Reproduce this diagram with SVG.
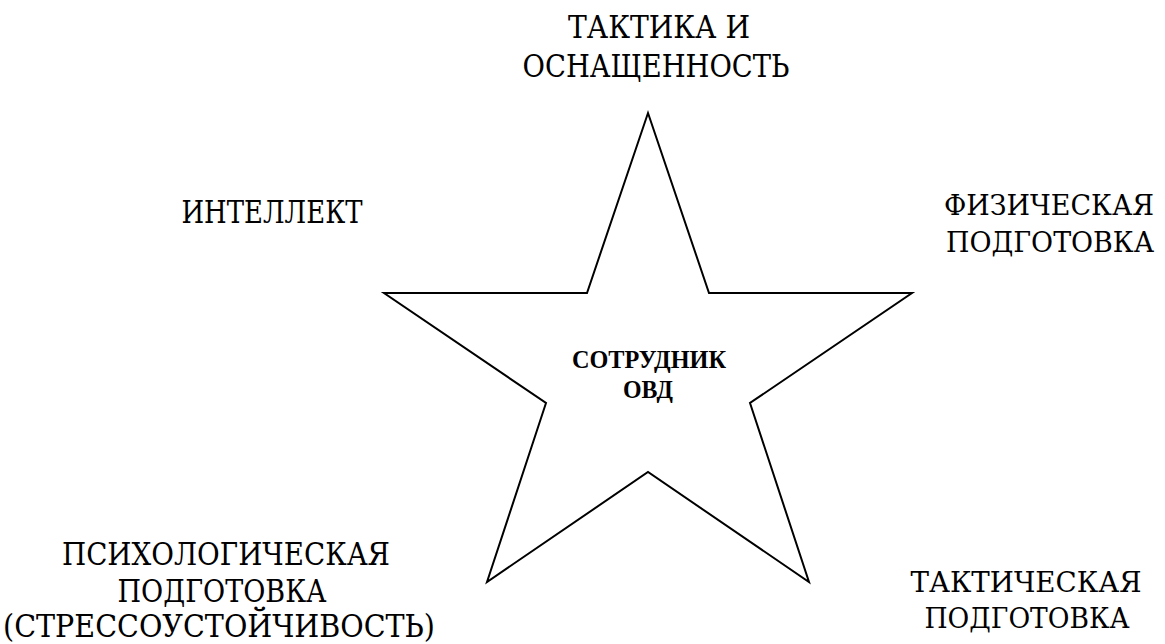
<svg xmlns="http://www.w3.org/2000/svg" width="1165" height="644" viewBox="0 0 1165 644">
  <style>
    text { fill: #000; text-anchor: middle; }
    .lbl { font-family: 'DejaVu Serif', 'Liberation Serif', serif; font-size: 31px; font-weight: normal; }
    .lbl.r { font-size: 28px; }
    .ctr { font-family: 'Liberation Serif', 'DejaVu Serif', serif; font-size: 25px; font-weight: bold; }
    .star { fill: #fff; stroke: #000; stroke-width: 2; stroke-linejoin: miter; }
  </style>
  <rect width="1165" height="644" fill="#fff"/>
  <g id="star">
    <polygon class="star" points="648,113 709,293 912,293 750,403 809,582 648,472 487,582 546,403 384,293 587,293"/>
    <text class="ctr" x="649" y="368" textLength="154" lengthAdjust="spacingAndGlyphs">СОТРУДНИК</text>
    <text class="ctr" x="648" y="398" textLength="50" lengthAdjust="spacingAndGlyphs">ОВД</text>
  </g>
  <g id="label-top">
    <text class="lbl" x="659" y="38" textLength="182" lengthAdjust="spacingAndGlyphs">ТАКТИКА И</text>
    <text class="lbl" x="656" y="77" textLength="267" lengthAdjust="spacingAndGlyphs">ОСНАЩЕННОСТЬ</text>
  </g>
  <g id="label-intellect">
    <text class="lbl" x="272" y="223" textLength="181" lengthAdjust="spacingAndGlyphs">ИНТЕЛЛЕКТ</text>
  </g>
  <g id="label-physical">
    <text class="lbl r" x="1049" y="215" textLength="210" lengthAdjust="spacingAndGlyphs">ФИЗИЧЕСКАЯ</text>
    <text class="lbl r" x="1050" y="252" textLength="208" lengthAdjust="spacingAndGlyphs">ПОДГОТОВКА</text>
  </g>
  <g id="label-psych">
    <text class="lbl" x="226" y="565" textLength="328" lengthAdjust="spacingAndGlyphs">ПСИХОЛОГИЧЕСКАЯ</text>
    <text class="lbl" x="222" y="602" textLength="209" lengthAdjust="spacingAndGlyphs">ПОДГОТОВКА</text>
    <text class="lbl" x="219" y="637" textLength="432" lengthAdjust="spacingAndGlyphs">(СТРЕССОУСТОЙЧИВОСТЬ)</text>
  </g>
  <g id="label-tactical">
    <text class="lbl r" x="1026" y="592" textLength="231" lengthAdjust="spacingAndGlyphs">ТАКТИЧЕСКАЯ</text>
    <text class="lbl r" x="1027" y="628" textLength="205" lengthAdjust="spacingAndGlyphs">ПОДГОТОВКА</text>
  </g>
</svg>
